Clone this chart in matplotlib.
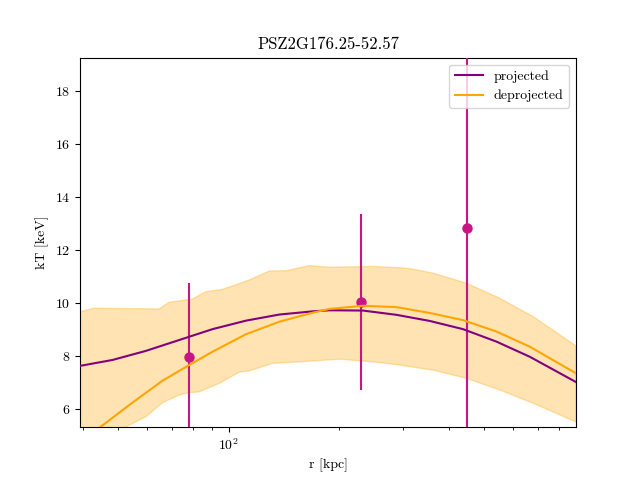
import numpy as np
import matplotlib
matplotlib.use("Agg")
import matplotlib.pyplot as plt

plt.rcParams['font.family'] = ['cmr10', 'DejaVu Serif']
plt.rcParams['mathtext.fontset'] = 'cm'
plt.rcParams['axes.formatter.use_mathtext'] = True

# projected data points
r_pts = [78.1, 229.3, 447.2]
kT_pts = [7.97, 10.04, 12.83]
kT_err = [2.8, 3.3, 7.8]

# projected model
r_proj = [39.0, 48.2, 59.4, 73.3, 90.4, 111.6, 137.6, 169.8, 188.6, 232.7, 287.2, 354.2, 436.9, 539.3, 665.0, 888.8]
kT_proj = [7.63, 7.86, 8.20, 8.61, 9.02, 9.34, 9.57, 9.69, 9.73, 9.72, 9.56, 9.33, 9.02, 8.55, 7.98, 7.03]

# deprojected model
r_deproj = [39.0, 44.7, 53.5, 66.0, 78.1, 90.4, 111.6, 137.6, 169.8, 188.6, 232.7, 287.2, 354.2, 436.9, 539.3, 665.0, 888.8]
kT_deproj = [4.75, 5.34, 6.16, 7.08, 7.67, 8.17, 8.83, 9.30, 9.64, 9.78, 9.90, 9.85, 9.63, 9.36, 8.93, 8.36, 7.36]

# deprojected uncertainty band
r_up = [39.0, 42.9, 64.6, 68.8, 79.7, 86.7, 96.3, 104.8, 113.9, 129.2, 143.6, 166.3, 188.6, 247.9, 293.2, 312.3, 361.6, 446.4, 550.8, 679.2, 888.8]
kT_up = [9.66, 9.81, 9.78, 10.03, 10.15, 10.43, 10.52, 10.69, 10.87, 11.21, 11.22, 11.41, 11.35, 11.38, 11.33, 11.30, 11.13, 10.75, 10.18, 9.49, 8.39]
r_lo = [39.0, 45.0, 52.4, 59.4, 66.0, 73.3, 78.1, 83.1, 94.3, 107.0, 113.9, 131.9, 156.1, 200.9, 247.9, 293.2, 312.3, 361.6, 446.4, 550.8, 679.2, 888.8]
kT_lo = [4.40, 4.85, 5.34, 5.72, 6.25, 6.54, 6.63, 6.66, 6.98, 7.40, 7.45, 7.73, 7.79, 7.89, 7.79, 7.67, 7.61, 7.48, 7.17, 6.73, 6.23, 5.53]

fig, ax = plt.subplots(figsize=(6.4, 4.8), dpi=100)

ax.errorbar(r_pts, kT_pts, yerr=kT_err, fmt='o', color='mediumvioletred',
            markersize=6.5, elinewidth=1.5, zorder=3)
ax.plot(r_proj, kT_proj, color='purple', lw=1.5, label='projected', zorder=4)
ax.plot(r_deproj, kT_deproj, color='orange', lw=1.5, label='deprojected', zorder=4)
ax.fill(np.r_[r_up, r_lo[::-1]], np.r_[kT_up, kT_lo[::-1]],
        color='orange', alpha=0.3, lw=1, zorder=1)

ax.set_xscale('log')
ax.set_xlim(39.3, 889)
ax.set_ylim(5.33, 19.24)
ax.set_xlabel('r [kpc]')
ax.set_ylabel('kT [keV]')
ax.set_title('PSZ2G176.25-52.57')
ax.legend(loc='upper right')

fig.savefig('out.png', dpi=100)
